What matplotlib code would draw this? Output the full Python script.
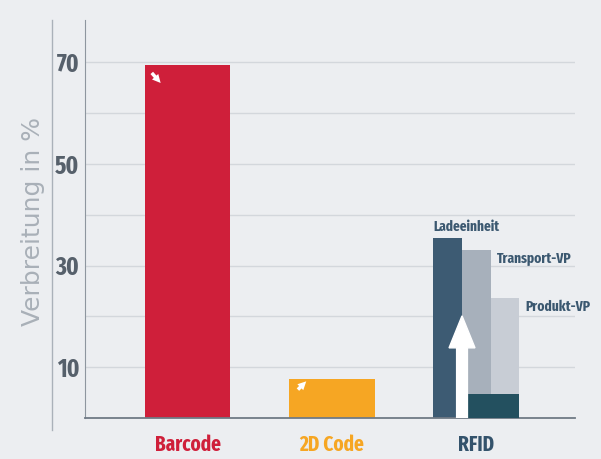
import matplotlib
matplotlib.use("Agg")
import matplotlib.pyplot as plt
from matplotlib.lines import Line2D
from matplotlib.patches import FancyArrow

categories = ["Barcode", "2D Code", "RFID"]
main_values = [69.5, 7.7]
rfid_labels = ["Ladeeinheit", "Transport-VP", "Produkt-VP"]
rfid_values = [35.5, 33.0, 23.7]
rfid_base = 4.7
yticks = [10, 30, 50, 70]

bg = "#eceef1"
cat_colors = ["#cf1f3a", "#f6a623", "#34536c"]
rfid_colors = ["#3d5b73", "#a7b0bb", "#c8cdd5"]
band_color = "#23505f"
cond = ["Fira Sans Extra Condensed", "Roboto Condensed", "DejaVu Sans"]

fig = plt.figure(figsize=(6.01, 4.59), dpi=100, facecolor=bg)
ax = fig.add_axes([85/601, 1-418/459, (575-85)/601, (418-20)/459])
ax.set_facecolor(bg)
ax.set_xlim(-0.712, 2.684)
ax.set_ylim(0, 78.3)

for g in range(10, 80, 10):
    ax.axhline(g, color="#d3d7dc", lw=1.0, zorder=0)

w = 0.59
ax.bar([0, 1], main_values, width=w, color=cat_colors[:2], zorder=2)

sw = 0.198
offs = [-sw, 0, sw]
for o, v, c in zip(offs, rfid_values, rfid_colors):
    ax.bar(2 + o, v, width=sw, color=c, zorder=2)
ax.bar([2, 2 + sw], [rfid_base, rfid_base], width=sw, color=band_color, zorder=3)

ax.add_patch(FancyArrow(2 - sw/2, 0, 0, 20.1, width=0.075, head_width=0.18,
                        head_length=6.3, length_includes_head=True,
                        color="white", zorder=4))

lab_pos = [(2 - 1.5*sw, 37.6), (2.142, 31.4), (2.337, 21.8)]
for (x, y), t in zip(lab_pos, rfid_labels):
    ax.text(x, y, t, ha="left", va="center", fontsize=10.5, fontweight="bold",
            color="#3b5870", family=cond, zorder=5)

ax.annotate("", xy=(-0.175, 65.5), xytext=(-0.262, 68.3),
            arrowprops=dict(arrowstyle="simple,head_width=0.6,head_length=0.6,tail_width=0.25",
                            color="white", lw=0), zorder=5)
ax.annotate("", xy=(0.835, 7.6), xytext=(0.75, 5.2),
            arrowprops=dict(arrowstyle="simple,head_width=0.6,head_length=0.6,tail_width=0.25",
                            color="white", lw=0), zorder=5)

for s in ["top", "right"]:
    ax.spines[s].set_visible(False)
ax.spines["left"].set_color("#8e969f")
ax.spines["bottom"].set_color("#6f7a85")
ax.spines["bottom"].set_linewidth(1.3)
ax.set_yticks(yticks)
ax.set_yticklabels([str(t) for t in yticks], fontsize=18, fontweight="bold",
                   color="#56606b", family=cond)
ax.tick_params(axis="y", length=0, pad=4)
ax.set_xticks([0, 1, 2])
ax.set_xticklabels(categories, fontsize=15, fontweight="bold", family=cond)
for lbl, c in zip(ax.get_xticklabels(), cat_colors):
    lbl.set_color(c)
ax.tick_params(axis="x", length=0, pad=12)

fig.text(33/601, 1-222/459, "Verbreitung in %", rotation=90, ha="center", va="center",
         fontsize=18, color="#a9b0b8", family=["DejaVu Sans"])
fig.add_artist(Line2D([52/601, 52/601], [1-20/459, 1-430/459], color="#aab1b9", lw=1.0))

fig.savefig("out.png", dpi=100, facecolor=bg)
